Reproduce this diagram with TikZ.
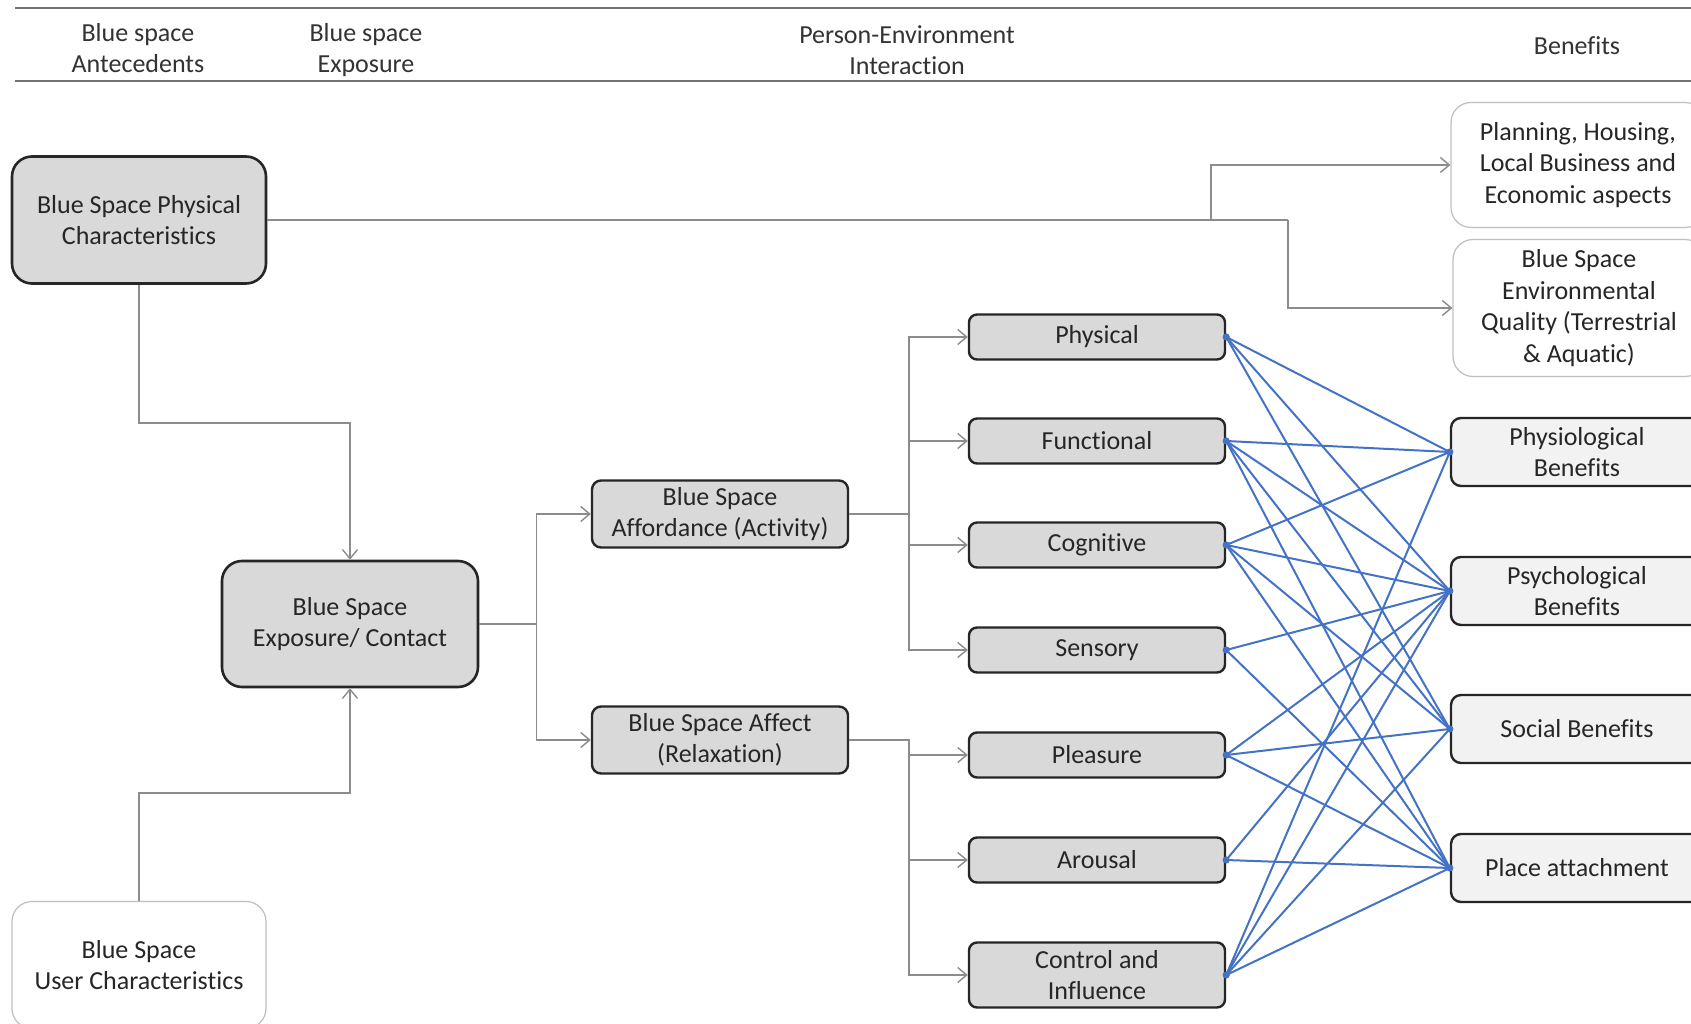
\documentclass[tikz,border=0pt]{standalone}
\usepackage{fontspec}
\setmainfont{Carlito}[Ligatures=NoCommon]
\usetikzlibrary{arrows.meta}
\definecolor{boxfill}{HTML}{D9D9D9}
\definecolor{benfill}{HTML}{F2F2F2}
\definecolor{boxline}{HTML}{262626}
\definecolor{lightline}{HTML}{BFBFBF}
\definecolor{connc}{HTML}{8C8C8C}
\definecolor{bluec}{HTML}{4472C4}
\definecolor{txt}{HTML}{262626}
\newcommand{\fsz}{\fontsize{26}{31.5}\selectfont}
\tikzset{
  base/.style={align=center, inner sep=0pt, text=txt, font=\fsz},
  bigbox/.style={base, draw=boxline, line width=2.6pt, fill=boxfill, rounded corners=20pt, minimum width=254pt, minimum height=127pt},
  midbox/.style={base, draw=boxline, line width=2.4pt, fill=boxfill, rounded corners=9pt, minimum width=256pt, minimum height=67pt},
  smallbox/.style={base, draw=boxline, line width=2.4pt, fill=boxfill, rounded corners=8pt, minimum width=256pt, minimum height=45pt},
  benbox/.style={base, draw=boxline, line width=2.4pt, fill=benfill, rounded corners=10pt, minimum width=252pt, minimum height=68pt},
  litebox/.style={base, draw=lightline, line width=1.2pt, fill=white, rounded corners=20pt},
  hdr/.style={base, text=black!80, font=\fontsize{26}{30.5}\selectfont},
  conn/.style={draw=connc, line width=1.6pt, -{Straight Barb[length=9pt,width=15pt,line width=1.4pt]}},
  plain/.style={draw=connc, line width=1.6pt},
  blueln/.style={draw=bluec, line width=2pt},
  hline/.style={draw=black!55, line width=2pt}
}
\begin{document}
\begin{tikzpicture}[x=1pt,y=-1pt]
\useasboundingbox (0,0) rectangle (1691,1024);
\fill[white] (0,0) rectangle (1691,1024);
% header
\draw[hline] (15,8) -- (1691,8);
\draw[hline] (15,81) -- (1691,81);
\node[hdr] (h1) at (138,48) {Blue space\\Antecedents};
\node[hdr] (h2) at (366,50) {Blue space\\Exposure};
\node[hdr] (h3) at (907,50) {Person-Environment\\Interaction};
\node[hdr] (h4) at (1577,46) {Benefits};
% left nodes
\node[bigbox] (pc) at (139,220) {Blue Space Physical\\Characteristics};
\node[litebox, minimum width=254pt, minimum height=127pt] (user) at (139,965) {Blue Space\\User Characteristics};
\node[bigbox, minimum width=256pt, minimum height=126pt] (expo) at (350,624) {Blue Space\\Exposure/ Contact};
\node[midbox] (aff) at (720,514) {Blue Space\\Affordance (Activity)};
\node[midbox] (afc) at (720,740) {Blue Space Affect\\(Relaxation)};
% middle column
\node[smallbox] (m1) at (1097,337) {Physical};
\node[smallbox] (m2) at (1097,441) {Functional};
\node[smallbox] (m3) at (1097,545) {Cognitive};
\node[smallbox] (m4) at (1097,650) {Sensory};
\node[smallbox] (m5) at (1097,755) {Pleasure};
\node[smallbox] (m6) at (1097,860) {Arousal};
\node[smallbox, minimum height=65pt] (m7) at (1097,975) {Control and\\Influence};
% right column
\node[litebox, minimum width=254pt, minimum height=125pt] (plan) at (1578,165) {Planning, Housing,\\Local Business and\\Economic aspects};
\node[litebox, minimum width=252pt, minimum height=137pt] (envq) at (1579,308) {Blue Space\\Environmental\\Quality (Terrestrial\\\& Aquatic)};
\node[benbox] (b1) at (1577,452) {Physiological\\Benefits};
\node[benbox] (b2) at (1577,591) {Psychological\\Benefits};
\node[benbox] (b3) at (1577,729) {Social Benefits};
\node[benbox] (b4) at (1577,868) {Place attachment};
% grey connectors
\coordinate (split) at (1211,220);
\draw[plain] (pc.east) -- (1288,220);
\draw[conn] (1288,220) |- (envq.west);
\draw[conn] (split) |- (plan.west);
\draw[conn] (pc.south) -- ++(0,138) -| (expo.north);
\draw[conn] (user.north) -- ++(0,-108) -| (expo.south);
\draw[conn] (expo.east) -- ++(57,0) |- (aff.west);
\draw[conn] (expo.east) -- ++(57,0) |- (afc.west);
\foreach \m in {m1,m2,m3,m4}{
  \draw[conn] (aff.east) -- (909,514) |- (\m.west);
}
\foreach \m in {m5,m6,m7}{
  \draw[conn] (afc.east) -- (909,740) |- (\m.west);
}
% blue connections
\foreach \a/\b in {m1/b1,m1/b2,m1/b3,
                   m2/b1,m2/b2,m2/b3,m2/b4,
                   m3/b1,m3/b2,m3/b3,m3/b4,
                   m4/b2,m4/b4,
                   m5/b2,m5/b3,m5/b4,
                   m6/b2,m6/b4,
                   m7/b1,m7/b2,m7/b3,m7/b4}{
  \draw[blueln] (\a.east) -- (\b.west);
}
\foreach \n in {m1,m2,m3,m4,m5,m6,m7}{\fill[bluec] (\n.east) circle (3.6pt);}
\foreach \n in {b1,b2,b3,b4}{\fill[bluec] (\n.west) circle (3.6pt);}
\end{tikzpicture}
\end{document}
